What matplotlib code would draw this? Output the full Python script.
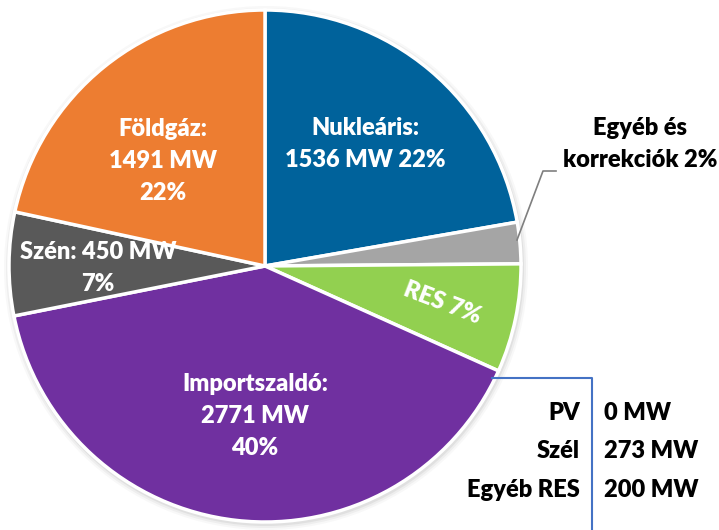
import matplotlib
matplotlib.use("Agg")
from matplotlib import pyplot as plt
from matplotlib.patches import Circle

plt.rcParams["font.family"] = ["Lato", "DejaVu Sans"]
plt.rcParams["font.weight"] = "bold"

# slices clockwise from 12 o'clock
sources = ["Nukleáris", "Egyéb és korrekciók", "RES", "Importszaldó", "Szén", "Földgáz"]
mw = [1536, 180, 473, 2771, 450, 1491]
colors = ["#00629b", "#a5a5a5", "#92d050", "#7030a0", "#595959", "#ed7d31"]

res_parts = ["PV", "Szél", "Egyéb RES"]
res_mw = [0, 273, 200]

W, H = 719, 530
fig = plt.figure(figsize=(W / 100, H / 100), dpi=100)
ax = fig.add_axes([0, 0, 1, 1])

cx, cy, r = 265, H - 266, 256

# soft shadow behind the pie
for k, a in [(6, 0.05), (4, 0.08), (2, 0.12)]:
    ax.add_patch(Circle((cx + 1, cy - 2), r + k, color="#7f7f7f", alpha=a, lw=0, zorder=0))

wedges, _ = ax.pie(
    mw, colors=colors, startangle=90, counterclock=False,
    center=(cx, cy), radius=r,
    wedgeprops=dict(edgecolor="white", linewidth=2.5),
)
for w in wedges:
    w.set_zorder(1)

ax.set_xlim(0, W)
ax.set_ylim(0, H)
ax.set_aspect("equal")
ax.axis("off")


def y(py):
    return H - py


fs = 17
STEP = 32  # pixel distance between label lines


def label(x, py, lines, color="white", **kw):
    for i, s in enumerate(lines):
        ax.text(x, y(py + i * STEP), s, color=color, fontsize=fs, fontweight="heavy",
                ha="center", va="center", zorder=3, **kw)


label(163, 129, ["Földgáz:", f"{mw[5]} MW", "22%"])
label(365, 128, ["Nukleáris:", f"{mw[0]} MW 22%"])
label(98, 252, [f"Szén: {mw[4]} MW", "7%"])
label(255, 384, ["Importszaldó:", f"{mw[3]} MW", "40%"])
ax.text(442, y(303), "RES 7%", rotation=-21, color="white", fontsize=fs,
        fontweight="heavy", ha="center", va="center", zorder=3)

# leader for the small slice
ax.plot([517, 543, 556], [y(240), y(171), y(171)], color="#7f7f7f", lw=1.2, zorder=3)
label(640, 128, ["Egyéb és", "korrekciók 2%"], color="black")

# RES breakdown
ax.plot([492, 592, 592], [y(378), y(378), y(531)], color="#4472c4", lw=1.5,
        clip_on=False, zorder=3)
for i, (name, val) in enumerate(zip(res_parts, res_mw)):
    yy = y(413 + i * 38.5)
    ax.text(580, yy, name, color="black", fontsize=fs, fontweight="heavy",
            ha="right", va="center")
    ax.text(604, yy, f"{val} MW", color="black", fontsize=fs, fontweight="heavy",
            ha="left", va="center")

fig.savefig("out.png", dpi=100)
